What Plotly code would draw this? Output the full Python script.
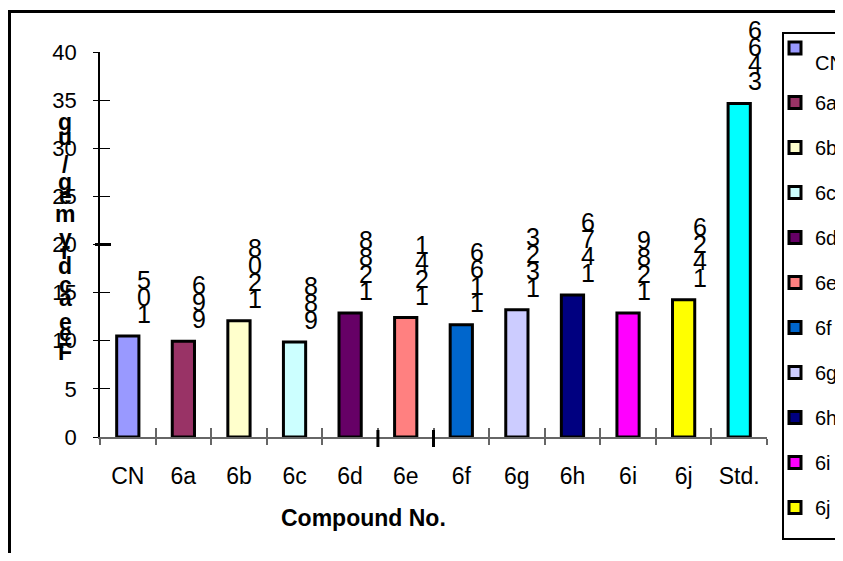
import plotly.graph_objects as go

# ---------------- data ----------------
categories = ["CN", "6a", "6b", "6c", "6d", "6e", "6f", "6g", "6h", "6i", "6j", "Std."]
values = [10.5, 9.96, 12.08, 9.88, 12.88, 12.41, 11.66, 13.23, 14.76, 12.89, 14.26, 34.66]
value_labels = ["501", "699", "8021", "889", "8821", "1421", "6611", "3231", "6741", "9821", "6241", "6643"]
colors = ["#9999FF", "#993366", "#FFFFCC", "#CCFFFF", "#660066", "#FF8080",
          "#0066CC", "#CCCCFF", "#000080", "#FF00FF", "#FFFF00", "#00FFFF"]
legend_names = ["&nbsp;<br><span style='font-size:20px'>CN</span>",
                "6a", "6b", "6c", "6d", "6e", "6f", "6g", "6h", "6i", "6j", "Std."]
y_ticks = [0, 5, 10, 15, 20, 25, 30, 35, 40]
y_title_chars = ["g", "u", "/", "g", "e", "m", "y", "r", "d", "c", "a", "e", "e", "F"]
y_title_pos = [122, 137, 165, 182, 196, 214, 238, 251, 266, 285, 298, 322, 333, 352]
x_title = "Compound No."

# ---------------- layout helpers (page pixels -> paper) ----------------
OFF = 8                      # default body margin of the html page
W, H = 843 - OFF, 561 - 2 * OFF
PLOT_X0, PLOT_X1, PLOT_Y0, PLOT_Y1 = 100, 767, 52, 437   # page pixels of plot area
L, R = PLOT_X0 - OFF, W - (PLOT_X1 - OFF)
T, B = PLOT_Y0 - OFF, H - (PLOT_Y1 - OFF)
PW, PH = PLOT_X1 - PLOT_X0, PLOT_Y1 - PLOT_Y0
FONT = "Liberation Sans, Arial, sans-serif"
NARROW = "Liberation Sans Narrow, Arial Narrow, Liberation Sans, sans-serif"


def px_x(px):
    return (px - PLOT_X0) / PW


def px_y(py):
    return (PLOT_Y1 - py) / PH


fig = go.Figure()
for i, (c, v, col, nm) in enumerate(zip(categories, values, colors, legend_names)):
    fig.add_trace(go.Bar(
        x=[c], y=[v], name=nm, legendgroup=c,
        legend="legend2" if i == 0 else "legend",
        showlegend=(c != "Std."),
        marker=dict(color=col, line=dict(color="black", width=3)),
        width=0.4,
    ))

# helper trace for the inner half of the crossing ticks
fig.add_trace(go.Scatter(x=categories, y=values, xaxis="x2", yaxis="y2", mode="markers",
                         marker=dict(opacity=0), showlegend=False, hoverinfo="skip"))

annotations = []
# stacked value labels
for c, v, lab in zip(categories, values, value_labels):
    for j, ch in enumerate(lab[::-1]):
        annotations.append(dict(
            x=c, y=v, xref="x", yref="y", text=ch, showarrow=False,
            xshift=16, yshift=22 + j * 17, yanchor="middle",
            font=dict(family=NARROW, size=25, color="black"),
        ))

# stacked y title
for ch, py in zip(y_title_chars, y_title_pos):
    annotations.append(dict(
        x=px_x(65), y=px_y(py), xref="paper", yref="paper", text=f"<b>{ch}</b>",
        showarrow=False, xanchor="center", yanchor="middle",
        font=dict(family=NARROW, size=23, color="black"),
    ))

annotations.append(dict(
    x=px_x(363), y=px_y(518), xref="paper", yref="paper", text=f"<b>{x_title}</b>",
    showarrow=False, xanchor="center", yanchor="middle",
    font=dict(family=NARROW, size=23, color="black"),
))

shapes = [
    dict(type="rect", xref="paper", yref="paper",
         x0=px_x(9.5), x1=px_x(900), y0=px_y(11.5), y1=px_y(640),
         line=dict(color="black", width=3), fillcolor="rgba(0,0,0,0)"),
    dict(type="rect", xref="paper", yref="paper",
         x0=px_x(783), x1=px_x(880), y0=px_y(33), y1=px_y(539),
         line=dict(color="black", width=2), fillcolor="rgba(0,0,0,0)"),
    # heavier tick marks seen on the reference axes
    dict(type="line", xref="paper", yref="y", x0=px_x(95), x1=px_x(111), y0=20, y1=20,
         line=dict(color="black", width=3)),
    dict(type="line", xref="x", yref="paper", x0=4.5, x1=4.5, y0=px_y(430), y1=px_y(447),
         line=dict(color="black", width=3)),
    dict(type="line", xref="x", yref="paper", x0=5.5, x1=5.5, y0=px_y(430), y1=px_y(447),
         line=dict(color="black", width=3)),
]

fig.update_layout(
    width=W, height=H,
    margin=dict(l=L, r=R, t=T, b=B, autoexpand=False),
    paper_bgcolor="white", plot_bgcolor="white",
    barmode="overlay",
    font=dict(family=FONT, color="black"),
    xaxis=dict(range=[-0.5, 11.5], type="category", tickson="boundaries",
               ticks="outside", ticklen=6, tickcolor="#666", tickwidth=1.5,
               showline=True, linecolor="#666", linewidth=1.5, showgrid=False,
               tickfont=dict(size=23, family=NARROW), ticklabelstandoff=18, zeroline=False),
    yaxis=dict(range=[0, 40], tickvals=y_ticks, ticks="outside", ticklen=5,
               tickcolor="black", tickwidth=1.2, showline=True, linecolor="black",
               linewidth=1.5, showgrid=False, zeroline=False,
               tickfont=dict(size=22), ticklabelstandoff=12),
    xaxis2=dict(overlaying="x", anchor="y2", range=[-0.5, 11.5], type="category",
                tickson="boundaries", ticks="inside", ticklen=9, tickcolor="#666",
                tickwidth=1.5, showticklabels=False, showline=False, showgrid=False,
                zeroline=False),
    yaxis2=dict(overlaying="y", anchor="x2", range=[0, 40], tickvals=y_ticks,
                ticks="inside", ticklen=10, tickcolor="black", tickwidth=1.2,
                showticklabels=False, showline=False, showgrid=False, zeroline=False),
    legend=dict(x=px_x(775), y=px_y(83), xanchor="left", yanchor="top",
                font=dict(size=20, family=FONT), bgcolor="rgba(0,0,0,0)",
                tracegroupgap=16, itemwidth=30, borderwidth=0, maxheight=2000),
    legend2=dict(x=px_x(775), y=px_y(33), xanchor="left", yanchor="top",
                 font=dict(size=13, family=FONT), bgcolor="rgba(0,0,0,0)",
                 itemwidth=30, valign="top", borderwidth=0),
    annotations=annotations,
    shapes=shapes,
)

fig.write_html("out.html")
